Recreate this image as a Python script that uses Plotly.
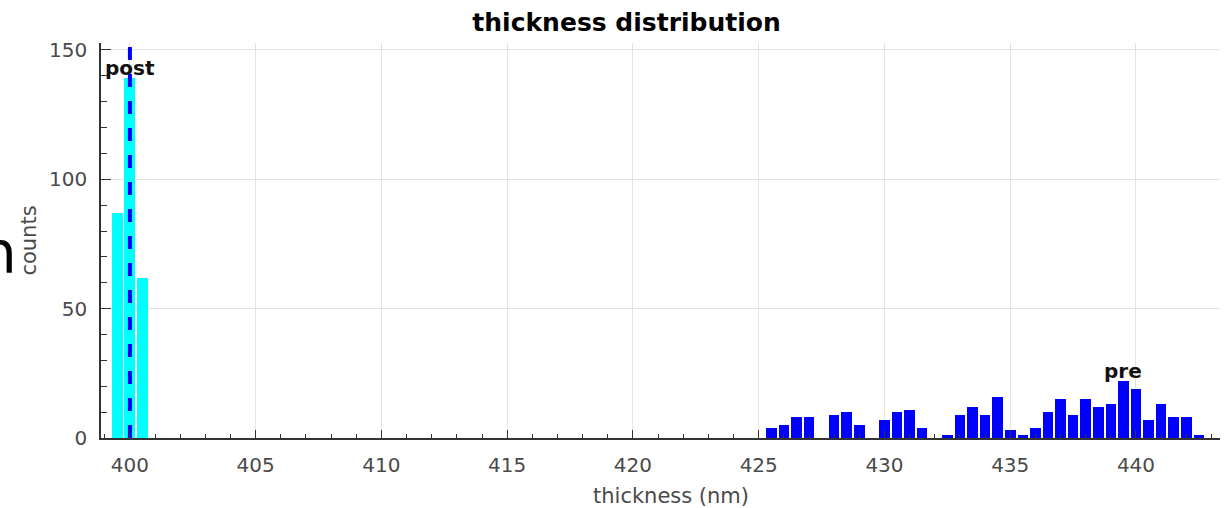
import plotly.graph_objects as go

# ---- data ----
post_bins = [399.5, 400.0, 400.5]
post_counts = [87, 139, 62]

pre_bins = [425.5, 426.0, 426.5, 427.0, 427.5, 428.0, 428.5, 429.0, 429.5, 430.0,
            430.5, 431.0, 431.5, 432.0, 432.5, 433.0, 433.5, 434.0, 434.5, 435.0,
            435.5, 436.0, 436.5, 437.0, 437.5, 438.0, 438.5, 439.0, 439.5, 440.0,
            440.5, 441.0, 441.5, 442.0, 442.5]
pre_counts = [4, 5, 8, 8, 0, 9, 10, 5, 0, 7,
              10, 11, 4, 0, 1, 9, 12, 9, 16, 3,
              1, 4, 10, 15, 9, 15, 12, 13, 22, 19,
              7, 13, 8, 8, 1]

post_mean = 400.0
x_ticks = [400, 405, 410, 415, 420, 425, 430, 435, 440]
y_ticks = [0, 50, 100, 150]
x_range = [398.85, 443.34]
y_range = [0, 152.7]

FONT = "DejaVu Sans"
TICK_COLOR = "#4a4a4a"

fig = go.Figure()

fig.add_trace(go.Bar(x=post_bins, y=post_counts, width=0.44,
                     marker=dict(color="#00FFFF", line=dict(width=0)),
                     name="post", showlegend=False))
fig.add_trace(go.Bar(x=pre_bins, y=pre_counts, width=0.42,
                     marker=dict(color="#0000FF", line=dict(width=0)),
                     name="pre", showlegend=False))

fig.add_trace(go.Scatter(x=[post_mean, post_mean], y=y_range, mode="lines",
                         line=dict(color="#0000FF", width=4, dash="13px,14px"),
                         showlegend=False, hoverinfo="skip"))

# peak labels
post_peak_i = post_counts.index(max(post_counts))
pre_peak_i = pre_counts.index(max(pre_counts))
fig.add_annotation(x=post_bins[post_peak_i], y=post_counts[post_peak_i] + 4, text="<b>post</b>",
                   showarrow=False, font=dict(family=FONT, size=20, color="#111111"))
fig.add_annotation(x=pre_bins[pre_peak_i], y=pre_counts[pre_peak_i] + 4, text="<b>pre</b>",
                   showarrow=False, font=dict(family=FONT, size=20, color="#111111"))

# x-axis title
fig.add_annotation(xref="paper", yref="paper", x=0.5094, y=0, yshift=-58,
                   text="thickness (nm)", showarrow=False,
                   font=dict(family=FONT, size=21, color=TICK_COLOR), yanchor="middle")

# clipped glyph at the left page edge (present in the source picture)
fig.add_annotation(xref="paper", yref="paper", x=-0.1099, y=0.468, xanchor="left",
                   yanchor="middle", text="h", showarrow=False,
                   font=dict(family=FONT, size=58, color="#000000"))

fig.update_layout(
    width=1230, height=508,
    margin=dict(l=101, r=10, t=43, b=70),
    paper_bgcolor="white", plot_bgcolor="white",
    bargap=0,
    font=dict(family=FONT, size=20, color=TICK_COLOR),
    title=dict(text="<b>thickness distribution</b>", x=0.5094, xanchor="center",
               y=0.957, yanchor="middle",
               font=dict(family=FONT, size=25, color="#000000")),
    xaxis=dict(range=x_range, tickvals=x_ticks, ticks="inside", ticklen=8, tickwidth=1.2,
               tickcolor="#333333", showline=True, linecolor="#333333", linewidth=1.5,
               showgrid=True, gridcolor="#e3e3e3", gridwidth=1, zeroline=False,
               ticklabelstandoff=8,
               minor=dict(dtick=1, ticks="inside", ticklen=4, tickcolor="#333333",
                          showgrid=False)),
    yaxis=dict(range=y_range, tickvals=y_ticks, ticks="inside", ticklen=10, tickwidth=1.2,
               tickcolor="#333333", showline=True, linecolor="#333333", linewidth=1.5,
               showgrid=True, gridcolor="#e3e3e3", gridwidth=1, zeroline=False,
               ticklabelstandoff=8,
               title=dict(text="counts", font=dict(family=FONT, size=21, color=TICK_COLOR),
                          standoff=7),
               minor=dict(dtick=10, ticks="inside", ticklen=6, tickcolor="#333333",
                          showgrid=False)),
)

fig.write_html("out.html")
